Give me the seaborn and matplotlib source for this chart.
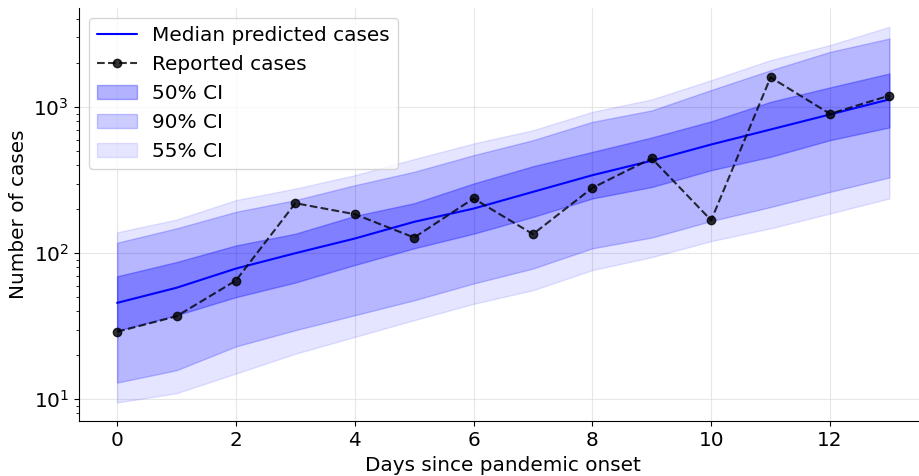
import matplotlib
matplotlib.use("Agg")
import matplotlib.pyplot as plt
import seaborn as sns
import pandas as pd
import numpy as np
from matplotlib.patches import Patch
from matplotlib.lines import Line2D

days = list(range(14))
reported = [29, 37, 65, 220, 185, 128, 237, 135, 280, 446, 168, 1600, 900, 1200]
median = [45.7, 58, 78.5, 100, 126, 164, 202, 263, 342, 430, 555, 703, 891, 1130]
ci50_low = [29.5, 37.6, 50, 63, 83, 108, 136, 177, 237, 284, 370, 457, 594, 726]
ci50_high = [69.5, 87, 113, 136, 180, 220, 300, 394, 494, 620, 800, 1087, 1365, 1700]
ci90_low = [13, 15.8, 23, 29.7, 37.6, 47.6, 62, 78.5, 108, 128, 166, 207, 263, 330]
ci90_high = [118, 148, 192, 231, 292, 361, 469, 594, 793, 950, 1310, 1790, 2390, 2950]
ci55_low = [9.5, 11, 15, 20.5, 26.7, 34.8, 45, 55.8, 76.6, 94, 121, 148, 187, 237]
ci55_high = [139, 170, 231, 277, 342, 441, 564, 695, 929, 1130, 1530, 2100, 2660, 3550]

sns.set_style("ticks", {"axes.edgecolor": "black", "text.color": "black",
                        "axes.labelcolor": "black", "xtick.color": "black",
                        "ytick.color": "black"})
plt.rcParams['font.family'] = ['DejaVu Sans']

df = pd.DataFrame({"day": days, "median": median, "reported": reported})

fig = plt.figure(figsize=(9.19, 4.76), dpi=100)
ax = fig.add_axes([78.5/919, 1-421.3/476, (928-78.5)/919, (421.3-8)/476])

ax.fill_between(days, ci50_low, ci50_high, color="blue", alpha=0.3)
ax.fill_between(days, ci90_low, ci90_high, color="blue", alpha=0.2)
ax.fill_between(days, ci55_low, ci55_high, color="blue", alpha=0.1)

sns.lineplot(data=df, x="day", y="median", color="blue", lw=1.5, ax=ax)
sns.lineplot(data=df, x="day", y="reported", color="black", alpha=0.8,
             linestyle="--", marker="o", markersize=6, markeredgecolor="black",
             markeredgewidth=1, lw=1.5, ax=ax)

ax.set_yscale("log")
ax.set_xlim(-0.65, 13.65)
ax.grid(True, which="major", color="#d8d8d8", alpha=0.6, lw=0.8)
ax.set_xticks([0, 2, 4, 6, 8, 10, 12])
ax.tick_params(labelsize=14.4, colors="black")
ax.set_xlabel("Days since pandemic onset", fontsize=14.4, color="black")
ax.set_ylabel("Number of cases", fontsize=14.4, color="black")
sns.despine(ax=ax)

handles = [
    Line2D([], [], color="blue", lw=1.5),
    Line2D([], [], color="black", alpha=0.8, ls="--", marker="o", markersize=6,
           markeredgecolor="black", lw=1.5),
    Patch(facecolor="blue", edgecolor="blue", alpha=0.3),
    Patch(facecolor="blue", edgecolor="blue", alpha=0.2),
    Patch(facecolor="blue", edgecolor="blue", alpha=0.1),
]
labels = ["Median predicted cases", "Reported cases", "50% CI", "90% CI", "55% CI"]
leg = ax.legend(handles, labels, loc="upper left", fontsize=14.4, frameon=True)
for t in leg.get_texts():
    t.set_color("black")

fig.savefig("out.png", dpi=100)
